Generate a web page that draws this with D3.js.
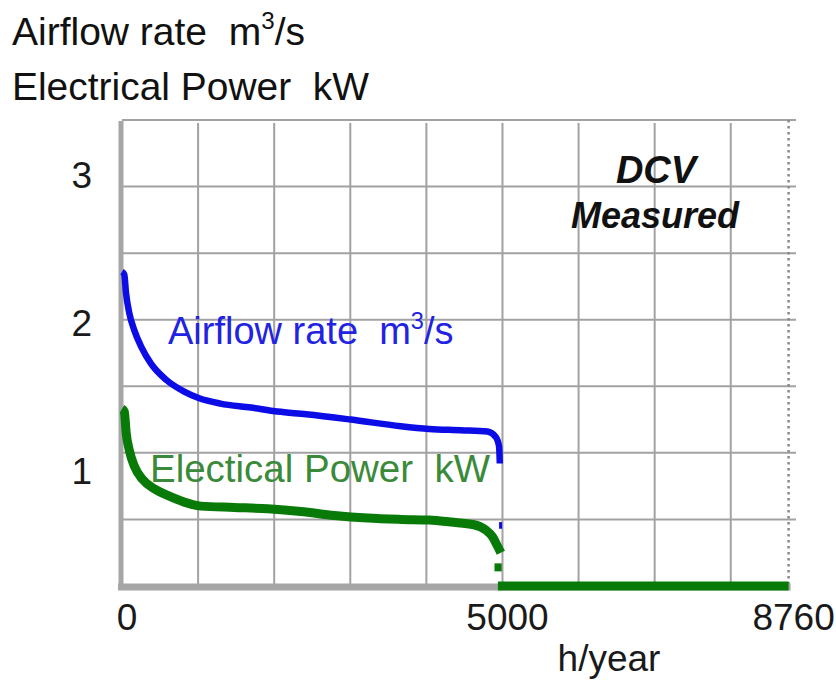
<!DOCTYPE html>
<html>
<head>
<meta charset="utf-8">
<script src="https://cdn.jsdelivr.net/npm/d3@7"></script>
<style>
  html, body { margin: 0; padding: 0; background: #fff; }
  svg text { font-family: "Liberation Sans", Arial, sans-serif; white-space: pre; }
</style>
</head>
<body>
<svg id="chart" width="836" height="688"></svg>
<script>
// ---- data ----
const airflowHours  = [0, 30, 53, 96, 162, 250, 381, 578, 818, 1015, 1294, 1694, 2044, 2420, 3008, 3664, 4036, 4452, 4803, 4912, 4955, 4965];
const airflowValues = [2.36, 2.34, 2.20, 2.05, 1.92, 1.80, 1.67, 1.55, 1.46, 1.41, 1.37, 1.34, 1.31, 1.29, 1.25, 1.20, 1.18, 1.17, 1.16, 1.12, 1.05, 0.92];
const airflowTailHours  = [4975, 4975];
const airflowTailValues = [0.48, 0.43];

const powerHours  = [0, 30, 55, 96, 162, 272, 424, 600, 818, 1038, 1475, 1914, 2351, 2789, 3227, 3664, 4036, 4321, 4627, 4781, 4869, 4934, 4978];
const powerValues = [1.33, 1.31, 1.15, 1.02, 0.90, 0.80, 0.73, 0.68, 0.63, 0.60, 0.59, 0.58, 0.56, 0.53, 0.51, 0.50, 0.495, 0.48, 0.46, 0.42, 0.37, 0.30, 0.25];
const powerTailHours  = [4895, 4990];
const powerTailValues = [0.14, 0.14];
const powerOffHours  = [4940, 8760];
const powerOffValues = [0, 0];

const xGridValues = [1000, 2000, 3000, 4000, 5000, 6000, 7000, 8000];
const yGridValues = [0.5, 1, 1.5, 2, 2.5, 3, 3.5];
const xTickValues = [0, 5000, 8760];
const xTickLabels = ["0", "5000", "8760"];
const yTickValues = [1, 2, 3];
const yTickLabels = ["1", "2", "3"];

const titleLine1 = ["Airflow rate  m", "3", "/s"];
const titleLine2 = "Electrical Power  kW";
const airflowLabel = ["Airflow rate  m", "3", "/s"];
const powerLabel = "Electical Power  kW";
const xAxisTitle = "h/year";
const noteLines = ["DCV", "Measured"];

// ---- scales ----
const x = d3.scaleLinear().domain([0, 8760]).range([122, 788.6]);
const y = d3.scaleLinear().domain([0, 3.5]).range([586, 120]);
const yLab = d3.scaleLinear().domain([1, 3]).range([484, 188]);

const svg = d3.select("#chart");
svg.append("rect").attr("width", 836).attr("height", 688).attr("fill", "#fff");

const gridColor = "#a2a2a2";
// horizontal grid
svg.append("g").selectAll("line").data(yGridValues).join("line")
  .attr("x1", x(0)).attr("x2", 796)
  .attr("y1", d => y(d)).attr("y2", d => y(d))
  .attr("stroke", gridColor).attr("stroke-width", 2);
// vertical grid
svg.append("g").selectAll("line").data(xGridValues).join("line")
  .attr("x1", d => x(d)).attr("x2", d => x(d))
  .attr("y1", y(3.5) + 3).attr("y2", y(0))
  .attr("stroke", gridColor).attr("stroke-width", 2);
// right dotted boundary
svg.append("line")
  .attr("x1", x(8760)).attr("x2", x(8760))
  .attr("y1", y(3.5)).attr("y2", y(0))
  .attr("stroke", "#8a8a8a").attr("stroke-width", 2.5)
  .attr("stroke-dasharray", "2.5,3.5");

// axes
svg.append("line")
  .attr("x1", x(0) - 1).attr("x2", x(0) - 1)
  .attr("y1", y(3.5) + 1).attr("y2", y(0) + 4)
  .attr("stroke", "#a6a6a6").attr("stroke-width", 5);
svg.append("line")
  .attr("x1", x(0) - 4).attr("x2", x(8760) + 2)
  .attr("y1", y(0) + 1).attr("y2", y(0) + 1)
  .attr("stroke", "#a6a6a6").attr("stroke-width", 7);

// lines
const zip = (a, b) => a.map((v, i) => [v, b[i]]);
const straight = d3.line().x(d => x(d[0])).y(d => y(d[1]));
const smooth = d3.line().x(d => x(d[0])).y(d => y(d[1])).curve(d3.curveMonotoneX);
const green = "#087a08", blue = "#0c0ce6";

svg.append("path").datum(zip(powerOffHours, powerOffValues))
  .attr("d", straight).attr("fill", "none")
  .attr("stroke", green).attr("stroke-width", 9);
svg.append("path").datum(zip(powerHours, powerValues))
  .attr("d", smooth).attr("fill", "none")
  .attr("stroke", green).attr("stroke-width", 9).attr("stroke-linejoin", "round");
svg.append("path").datum(zip(powerTailHours, powerTailValues))
  .attr("d", straight).attr("fill", "none")
  .attr("stroke", green).attr("stroke-width", 8);
svg.append("path").datum(zip(airflowHours, airflowValues))
  .attr("d", smooth).attr("fill", "none")
  .attr("stroke", blue).attr("stroke-width", 6.5).attr("stroke-linejoin", "round");
svg.append("path").datum(zip(airflowTailHours, airflowTailValues))
  .attr("d", straight).attr("fill", "none")
  .attr("stroke", blue).attr("stroke-width", 3);

// tick labels
svg.append("g").selectAll("text").data(xTickValues).join("text")
  .attr("x", d => x(d) + 5).attr("y", 630)
  .attr("text-anchor", "middle").attr("font-size", 37).attr("fill", "#1a1a1a")
  .text((d, i) => xTickLabels[i]);
svg.append("g").selectAll("text").data(yTickValues).join("text")
  .attr("x", 92).attr("y", d => yLab(d))
  .attr("text-anchor", "end").attr("font-size", 37).attr("fill", "#1a1a1a")
  .text((d, i) => yTickLabels[i]);
svg.append("text").attr("x", 609).attr("y", 671)
  .attr("text-anchor", "middle").attr("font-size", 37).attr("fill", "#1a1a1a")
  .text(xAxisTitle);

// titles
function supText(sel, parts, size) {
  sel.append("tspan").text(parts[0]);
  sel.append("tspan").attr("font-size", size * 0.62).attr("dy", -size * 0.4).text(parts[1]);
  sel.append("tspan").attr("dy", size * 0.4).text(parts[2]);
}
const t1 = svg.append("text").attr("x", 12).attr("y", 45).attr("font-size", 39).attr("fill", "#111");
supText(t1, titleLine1, 39);
svg.append("text").attr("x", 12).attr("y", 100).attr("font-size", 39).attr("fill", "#111")
  .attr("textLength", 357).attr("lengthAdjust", "spacingAndGlyphs").text(titleLine2);

// in-chart labels
const al = svg.append("text").attr("x", 168).attr("y", 344).attr("font-size", 38).attr("fill", "#2222e2");
supText(al, airflowLabel, 38);
svg.append("text").attr("x", 150).attr("y", 482).attr("font-size", 38).attr("fill", "#3a8a3a")
  .attr("textLength", 340).attr("lengthAdjust", "spacingAndGlyphs").text(powerLabel);

// note
svg.append("text").attr("x", 656).attr("y", 183).attr("text-anchor", "middle")
  .attr("font-size", 38).attr("font-weight", "bold").attr("font-style", "italic").attr("fill", "#111")
  .text(noteLines[0]);
svg.append("text").attr("x", 655).attr("y", 228).attr("text-anchor", "middle")
  .attr("font-size", 36).attr("font-weight", "bold").attr("font-style", "italic").attr("fill", "#111")
  .text(noteLines[1]);
</script>
</body>
</html>
